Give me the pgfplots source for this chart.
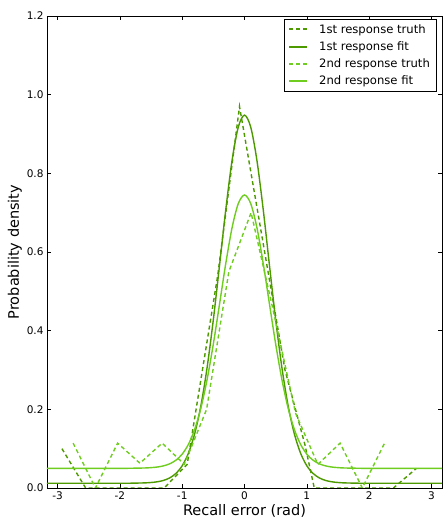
\documentclass[border=0pt]{standalone}
\usepackage{fontspec}
\setmainfont{DejaVu Sans}
\usepackage{pgfplots}
\pgfplotsset{compat=1.18}
\usetikzlibrary{calc}
\definecolor{darkg}{RGB}{76,153,0}
\definecolor{lightg}{RGB}{110,205,30}
\begin{document}
\begin{tikzpicture}
\begin{axis}[
  scale only axis,
  width=395pt, height=472pt,
  xmin=-3.17, xmax=3.17, ymin=0, ymax=1.2,
  xtick={-3,-2,-1,0,1,2,3},
  ytick={0,0.2,0.4,0.6,0.8,1.0,1.2},
  yticklabel style={/pgf/number format/.cd,fixed,fixed zerofill,precision=1},
  /pgf/number format/assume math mode=true,
  tick align=inside,
  major tick length=4pt,
  tick style={black, line width=0.5pt},
  axis line style={black, line width=0.8pt},
  ticklabel style={font=\fontsize{10.5}{12}\selectfont},
  xlabel={Recall error (rad)},
  ylabel={Probability density},
  label style={font=\fontsize{14.5}{16}\selectfont},
  xlabel style={yshift=2pt},
  ylabel style={yshift=-2pt},
  legend style={at={(0.985,0.993)}, anchor=north east, draw=black,
    font=\fontsize{11.6}{14}\selectfont, row sep=2.8pt, inner xsep=4pt, inner ysep=3pt},
  legend cell align=left,
  legend image code/.code={\draw[#1] (0pt,0pt) -- (18pt,0pt); \path (27pt,0pt);},
]
\addlegendimage{darkg, line width=1.6pt, dash pattern=on 4pt off 3pt, yshift=0.5pt}
\addlegendentry{1st response truth}
\addlegendimage{darkg, line width=1.6pt}
\addlegendentry{1st response fit}
\addlegendimage{lightg, line width=1.6pt, dash pattern=on 4pt off 3pt}
\addlegendentry{2nd response truth}
\addlegendimage{lightg, line width=1.6pt}
\addlegendentry{2nd response fit}
\addplot[darkg, line width=1.4pt, dash pattern=on 4pt off 3pt, forget plot] coordinates {
(-2.93,0.10) (-2.55,0.0) (-1.29,0.0) (-0.92,0.06) (-0.43,0.54) (-0.08,0.97)
(0.28,0.64) (0.65,0.30) (0.97,0.11) (1.12,0.0) (2.39,0.0) (2.76,0.05)};
\addplot[darkg, line width=1.4pt, smooth, forget plot] coordinates {
(-3.17,0.012) (-2.0,0.012) (-1.8,0.0123) (-1.6,0.0130) (-1.5,0.0140) (-1.4,0.0158)
(-1.3,0.0193) (-1.2,0.0257) (-1.1,0.0371) (-1.0,0.0566) (-0.9,0.0885) (-0.8,0.1377)
(-0.7,0.2093) (-0.6,0.3065) (-0.5,0.4282) (-0.4,0.5670) (-0.3,0.7084) (-0.2,0.8323)
(-0.1,0.9176) (0,0.948) (0.1,0.9176) (0.2,0.8323) (0.3,0.7084) (0.4,0.5670)
(0.5,0.4282) (0.6,0.3065) (0.7,0.2093) (0.8,0.1377) (0.9,0.0885) (1.0,0.0566)
(1.1,0.0371) (1.2,0.0257) (1.3,0.0193) (1.4,0.0158) (1.5,0.0140) (1.6,0.0130)
(1.8,0.0123) (2.0,0.012) (3.17,0.012)};
\addplot[lightg, line width=1.4pt, dash pattern=on 4pt off 3pt, forget plot] coordinates {
(-2.75,0.114) (-2.393,0.0) (-2.036,0.114) (-1.679,0.063) (-1.322,0.114) (-0.965,0.06)
(-0.608,0.20) (-0.251,0.55) (0.106,0.70) (0.463,0.45) (0.82,0.19) (1.177,0.06)
(1.534,0.114) (1.891,0.0) (2.248,0.114)};
\addplot[lightg, line width=1.4pt, smooth, forget plot] coordinates {
(-3.17,0.05) (-2.0,0.05) (-1.8,0.0503) (-1.6,0.0509) (-1.5,0.0518) (-1.4,0.0533)
(-1.3,0.0563) (-1.2,0.0615) (-1.1,0.0707) (-1.0,0.0862) (-0.9,0.1110) (-0.8,0.1489)
(-0.7,0.2032) (-0.6,0.2761) (-0.5,0.3663) (-0.4,0.4684) (-0.3,0.5715) (-0.2,0.6614)
(-0.1,0.7230) (0,0.745) (0.1,0.7230) (0.2,0.6614) (0.3,0.5715) (0.4,0.4684)
(0.5,0.3663) (0.6,0.2761) (0.7,0.2032) (0.8,0.1489) (0.9,0.1110) (1.0,0.0862)
(1.1,0.0707) (1.2,0.0615) (1.3,0.0563) (1.4,0.0533) (1.5,0.0518) (1.6,0.0509)
(1.8,0.0503) (2.0,0.05) (3.17,0.05)};
\end{axis}
\pgfresetboundingbox
\path[use as bounding box] ($(current axis.south west)+(-47pt,-37pt)$) rectangle ($(current axis.north east)+(1pt,16pt)$);
\end{tikzpicture}
\end{document}
